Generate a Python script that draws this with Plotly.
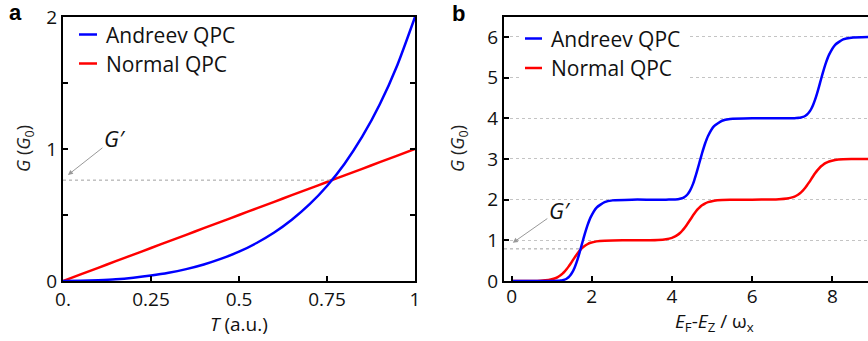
import plotly.graph_objects as go

# ---------------- data ----------------
# Panel a: conductance vs transmission T
T_a = [0, 0.05, 0.1, 0.15, 0.2, 0.25, 0.3, 0.35, 0.4, 0.45, 0.5,
       0.55, 0.6, 0.65, 0.7, 0.75, 0.8, 0.85, 0.9, 0.95, 1.0]
G_andreev_a = [0, 0.001, 0.006, 0.013, 0.025, 0.041, 0.062, 0.090, 0.125, 0.169, 0.222,
               0.288, 0.367, 0.464, 0.580, 0.720, 0.889, 1.093, 1.339, 1.637, 2.0]
G_normal_a = [0, 0.05, 0.1, 0.15, 0.2, 0.25, 0.3, 0.35, 0.4, 0.45, 0.5,
              0.55, 0.6, 0.65, 0.7, 0.75, 0.8, 0.85, 0.9, 0.95, 1.0]
G_prime_a = 0.764          # crossing level
T_cross_a = 0.764

# Panel b: conductance vs (E_F - E_Z)/omega_x
E_b = [0, 0.52, 0.72, 0.92, 1.07, 1.15, 1.22, 1.27, 1.32, 1.37, 1.42, 1.47, 1.52, 1.57, 1.62,
       1.67, 1.72, 1.77, 1.82, 1.89, 1.97, 2.12, 2.32, 2.52, 3.0,
       3.45, 3.65, 3.85, 4.00, 4.08, 4.15, 4.20, 4.25, 4.30, 4.35, 4.40, 4.45, 4.50, 4.55,
       4.60, 4.65, 4.70, 4.75, 4.82, 4.90, 5.05, 5.25, 5.45, 6.0,
       6.47, 6.67, 6.87, 7.02, 7.10, 7.17, 7.22, 7.27, 7.32, 7.37, 7.42, 7.47, 7.52, 7.57,
       7.62, 7.67, 7.72, 7.77, 7.84, 7.92, 8.07, 8.27, 8.47, 9.0, 10.0]
G_normal_b = [0, 0.002, 0.008, 0.026, 0.061, 0.096, 0.140, 0.180, 0.229, 0.287, 0.353, 0.425,
              0.500, 0.575, 0.647, 0.713, 0.771, 0.820, 0.860, 0.904, 0.939, 0.974, 0.992,
              0.998, 1.000,
              1.002, 1.008, 1.026, 1.061, 1.096, 1.140, 1.180, 1.229, 1.287, 1.353, 1.425,
              1.500, 1.575, 1.647, 1.713, 1.771, 1.820, 1.860, 1.904, 1.939, 1.974, 1.992,
              1.998, 2.000,
              2.002, 2.008, 2.026, 2.061, 2.096, 2.140, 2.180, 2.229, 2.287, 2.353, 2.425,
              2.500, 2.575, 2.647, 2.713, 2.771, 2.820, 2.860, 2.904, 2.939, 2.974, 2.992,
              2.998, 3.000, 3.000]
G_andreev_b = [0, 0.000, 0.000, 0.000, 0.002, 0.005, 0.011, 0.020, 0.034, 0.056, 0.092, 0.146,
               0.222, 0.326, 0.457, 0.613, 0.786, 0.965, 1.140, 1.361, 1.564, 1.806, 1.939,
               1.982, 2.000,
               2.000, 2.000, 2.000, 2.002, 2.005, 2.011, 2.020, 2.034, 2.056, 2.092, 2.146,
               2.222, 2.326, 2.457, 2.613, 2.786, 2.965, 3.140, 3.361, 3.564, 3.806, 3.939,
               3.982, 4.000,
               4.000, 4.000, 4.000, 4.002, 4.005, 4.011, 4.020, 4.034, 4.056, 4.092, 4.146,
               4.222, 4.326, 4.457, 4.613, 4.786, 4.965, 5.140, 5.361, 5.564, 5.806, 5.939,
               5.982, 6.000, 6.000]
G_prime_b = 0.79
E_cross_b = 1.69

x_ticks_a = [0, 0.25, 0.5, 0.75, 1]
x_labels_a = ["0.", "0.25", "0.5", "0.75", "1"]
y_ticks_a = [0, 0.5, 1, 1.5, 2]
y_labels_a = ["0", "", "1", "", "2"]
x_ticks_b = [0, 2, 4, 6, 8]
y_ticks_b = [0, 1, 2, 3, 4, 5, 6]

series_names = ["Andreev QPC", "Normal QPC"]
series_colors = ["#0000ff", "#ff0000"]

# ---------------- figure ----------------
W, H = 868, 341
def px(x):
    return x / W
def py(y):
    return 1 - y / H

FONT = "Open Sans"
fig = go.Figure()
line_a = dict(width=2.5, shape="spline", smoothing=0.6)
fig.add_trace(go.Scatter(x=T_a, y=G_normal_a, mode="lines", name=series_names[1],
                         line=dict(color=series_colors[1], **line_a), xaxis="x", yaxis="y",
                         showlegend=False))
fig.add_trace(go.Scatter(x=T_a, y=G_andreev_a, mode="lines", name=series_names[0],
                         line=dict(color=series_colors[0], **line_a), xaxis="x", yaxis="y",
                         showlegend=False))
line_b = dict(width=2.5, shape="spline", smoothing=0.5)
fig.add_trace(go.Scatter(x=E_b, y=G_normal_b, mode="lines", name=series_names[1],
                         line=dict(color=series_colors[1], **line_b), xaxis="x2", yaxis="y2",
                         showlegend=False))
fig.add_trace(go.Scatter(x=E_b, y=G_andreev_b, mode="lines", name=series_names[0],
                         line=dict(color=series_colors[0], **line_b), xaxis="x2", yaxis="y2",
                         showlegend=False))

ydom = [py(281), py(17)]
common = dict(showline=True, linecolor="black", linewidth=2, ticks="inside", ticklen=5,
              tickwidth=2, tickcolor="black", zeroline=False, automargin=False,
              tickfont=dict(family=FONT, size=19, color="#111"))

fig.update_layout(
    template="none",
    width=W, height=H, margin=dict(l=0, r=0, t=0, b=0, pad=0, autoexpand=False),
    paper_bgcolor="white", plot_bgcolor="white", showlegend=False,
    font=dict(family=FONT, color="#111"),
    xaxis=dict(domain=[px(63), px(415)], range=[0, 1], anchor="y", mirror=True,
               tickvals=x_ticks_a, ticktext=x_labels_a, showgrid=False, **common),
    yaxis=dict(domain=ydom, range=[0, 2], anchor="x", mirror="ticks",
               tickvals=y_ticks_a, ticktext=y_labels_a, showgrid=False, **common),
    xaxis2=dict(domain=[px(504), 1], range=[-0.19, 8.89], anchor="y2", mirror=True,
                tickvals=x_ticks_b, showgrid=False, ticklabelstandoff=-3, **common),
    yaxis2=dict(domain=ydom, range=[0, 6.49], anchor="x2", mirror=False,
                tickvals=y_ticks_b, showgrid=True, gridcolor="#c4c4c4", gridwidth=1,
                griddash="3px,3px", **common),
)

shapes = []
# G' dashed levels
shapes.append(dict(type="line", xref="x", yref="y", x0=0, x1=T_cross_a, y0=G_prime_a, y1=G_prime_a,
                   line=dict(color="#a0a0a0", width=1, dash="3px,3px")))
shapes.append(dict(type="line", xref="x2", yref="y2", x0=-0.19, x1=E_cross_b, y0=G_prime_b, y1=G_prime_b,
                   line=dict(color="#a0a0a0", width=1, dash="3px,3px")))
# white legend background in panel b (covers gridlines)
shapes.append(dict(type="rect", xref="x2", yref="y2", x0=0.23, x1=4.45, y0=4.6, y1=6.45,
                   fillcolor="white", line=dict(width=0), layer="between"))
# legend samples
for (x0, x1, ys) in [(79, 97, [34.5, 63.5]), (525, 542, [38.5, 68])]:
    for c, yy in zip(series_colors, ys):
        shapes.append(dict(type="line", xref="paper", yref="paper", x0=px(x0), x1=px(x1),
                           y0=py(yy), y1=py(yy), line=dict(color=c, width=2.5)))
fig.update_layout(shapes=shapes)

ann = []
# legend text
for (x0, ys) in [(104, [34.5, 63.5]), (549, [38.5, 68])]:
    for name, yy in zip(series_names, ys):
        ann.append(dict(text=name, xref="paper", yref="paper", x=px(x0), y=py(yy),
                        xanchor="left", yanchor="middle", showarrow=False,
                        font=dict(family=FONT, size=21, color="#111")))
# panel letters
ann.append(dict(text="<b>a</b>", xref="paper", yref="paper", x=px(7), y=py(13),
                xanchor="left", yanchor="middle", showarrow=False,
                font=dict(family="Liberation Sans", size=22, color="black")))
ann.append(dict(text="<b>b</b>", xref="paper", yref="paper", x=px(450), y=py(14),
                xanchor="left", yanchor="middle", showarrow=False,
                font=dict(family="Liberation Sans", size=22, color="black")))
# axis titles
ann.append(dict(text="<i>T</i> (a.u.)", xref="paper", yref="paper", x=px(239), y=py(324),
                xanchor="center", yanchor="middle", showarrow=False,
                font=dict(family=FONT, size=19, color="#111")))
ann.append(dict(text="<i>E</i><sub>F</sub>-<i>E</i><sub>Z</sub> / ω<sub>x</sub>",
                xref="paper", yref="paper", x=px(714), y=py(322),
                xanchor="center", yanchor="middle", showarrow=False,
                font=dict(family=FONT, size=19, color="#111")))
for xx in [24, 458]:
    ann.append(dict(text="<i>G</i> (<i>G</i><sub>0</sub>)", xref="paper", yref="paper",
                    x=px(xx), y=py(149), xanchor="center", yanchor="middle", textangle=-90,
                    showarrow=False, font=dict(family=FONT, size=18, color="#222")))
# G' arrows
ann.append(dict(text="<i>G′</i>", xref="x", yref="y", x=0.014, y=0.803, ax=47, ay=-37,
                showarrow=True, arrowhead=2, arrowsize=1, arrowwidth=1, arrowcolor="#999",
                standoff=0, font=dict(family=FONT, size=22, color="#111")))
ann.append(dict(text="<i>G′</i>", xref="x2", yref="y2", x=0.03, y=0.94, ax=47, ay=-33,
                showarrow=True, arrowhead=2, arrowsize=1, arrowwidth=1, arrowcolor="#999",
                standoff=0, font=dict(family=FONT, size=22, color="#111")))
fig.update_layout(annotations=ann)

fig.write_html("out.html")
